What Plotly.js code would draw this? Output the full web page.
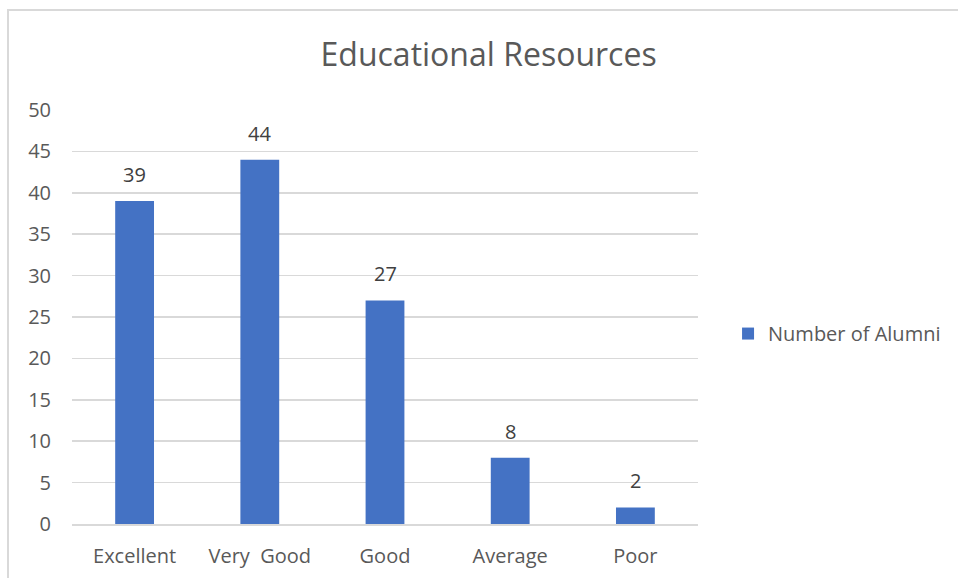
<!DOCTYPE html>
<html><head><meta charset="utf-8">
<script src="https://cdn.plot.ly/plotly-3.0.1.min.js"></script>
<style>
html,body{margin:0;padding:0;overflow:hidden;background:#fff;}
#frame{position:absolute;left:7px;top:9px;width:1000px;height:1000px;border:2px solid #d9d9d9;pointer-events:none;}
#chart{width:958px;height:578px;}
</style></head>
<body>
<div id="chart"></div>
<div id="frame"></div>
<script>
var categories = ["Excellent", "Very\u00a0 Good", "Good", "Average", "Poor"];
var values = [39, 44, 27, 8, 2];
var seriesName = "Number of Alumni";
var yTicks = [0, 5, 10, 15, 20, 25, 30, 35, 40, 45, 50];

var font = "Open Sans, Liberation Sans, sans-serif";
var trace = {
  type: "bar",
  x: categories,
  y: values,
  name: seriesName,
  marker: {color: "#4472C4"},
  hoverinfo: "none",
  showlegend: true
};
var annotations = categories.map(function (c, i) {
  return {x: c, y: values[i], xref: "x", yref: "y", text: String(values[i]),
          showarrow: false, yanchor: "bottom", yshift: 11,
          font: {family: font, size: 20, color: "#404040"}};
});
var layout = {
  width: 958, height: 578,
  margin: {l: 72, r: 260, t: 110, b: 54},
  paper_bgcolor: "#fff", plot_bgcolor: "#fff",
  bargap: 0.69,
  annotations: annotations,
  title: {text: "Educational Resources", x: 0.51, xanchor: "center", y: 0.905, yanchor: "middle",
          font: {family: font, size: 32, color: "#595959"}},
  xaxis: {showgrid: false, showline: true, linecolor: "#d9d9d9", linewidth: 1.5,
          ticks: "", ticklabelstandoff: 13, tickfont: {family: font, size: 20, color: "#595959"}, fixedrange: true},
  yaxis: {range: [0, 50], tickvals: yTicks, showgrid: true, gridcolor: "#d9d9d9", gridwidth: 1.5,
          zeroline: false, showline: false, ticks: "", ticklen: 0, ticklabelstandoff: 20,
          tickfont: {family: font, size: 20, color: "#595959"}, fixedrange: true},
  legend: {x: 1.048, y: 0.46, xanchor: "left", yanchor: "middle",
           font: {family: font, size: 20, color: "#595959"}},
  showlegend: true
};
Plotly.newPlot("chart", [trace], layout, {displayModeBar: false, staticPlot: true});
</script>
</body></html>
